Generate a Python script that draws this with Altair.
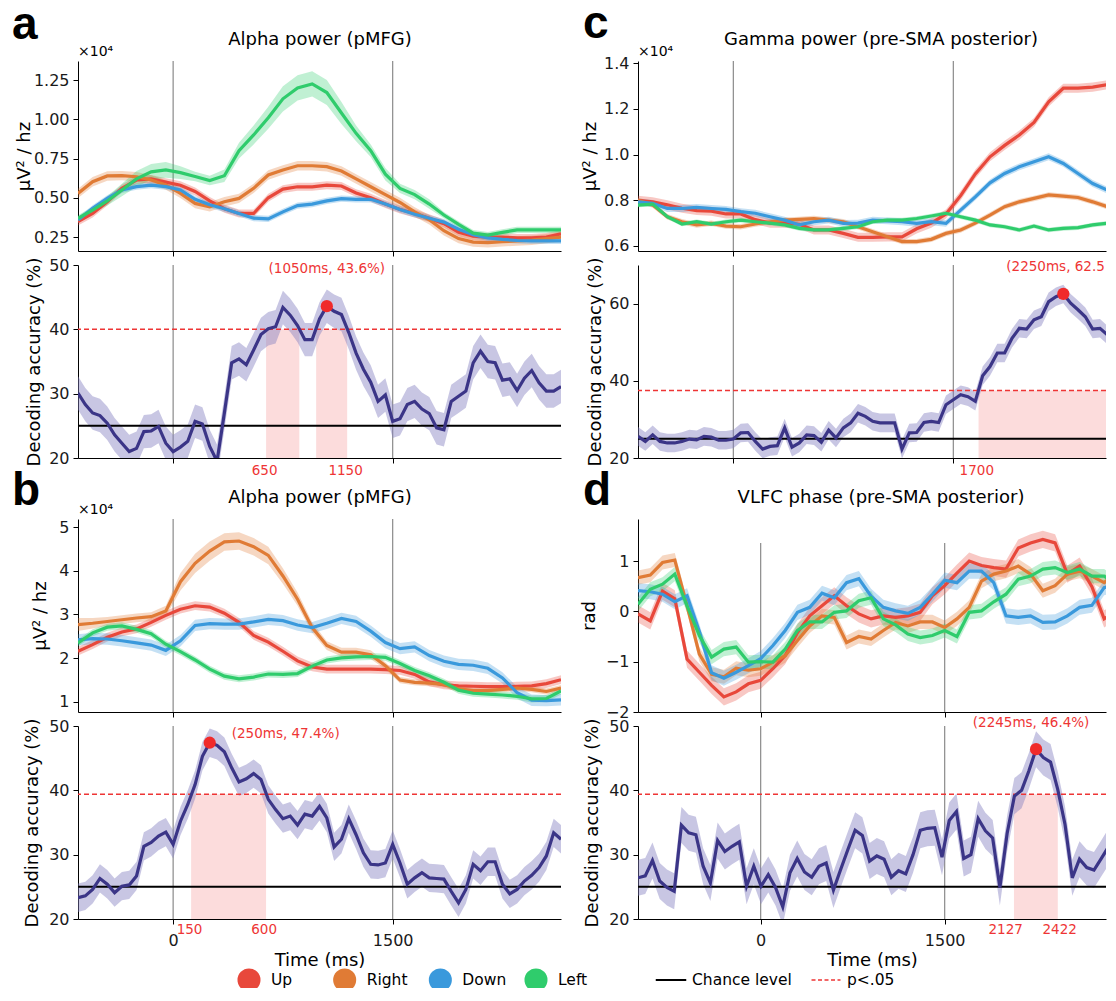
import altair as alt
import pandas as pd

# ---------------- data ----------------
DIRS = ["Up", "Right", "Down", "Left"]
DIR_COLORS = ["#e8483b", "#e07b35", "#3a99dc", "#2fcc6c"]

POW_T_ABC = list(range(-650, 2651, 100))
POW_T_D = list(range(-1000, 2901, 100))
DEC_T_ABC = list(range(-650, 2651, 50))
DEC_T_D = [-1000 + 59 * k for k in range(67)]

A_UP = [0.348, 0.40, 0.475, 0.56, 0.613, 0.62, 0.60, 0.58, 0.54, 0.48, 0.43, 0.40, 0.40, 0.50, 0.555, 0.57, 0.57, 0.58,
        0.575, 0.53, 0.50, 0.46, 0.425, 0.40, 0.37, 0.335, 0.28, 0.255, 0.25, 0.25, 0.245, 0.245, 0.25, 0.27]
A_RIGHT = [0.528, 0.602, 0.639, 0.641, 0.634, 0.613, 0.581, 0.528, 0.464, 0.443, 0.475, 0.496, 0.56, 0.645, 0.677, 0.704,
           0.704, 0.698, 0.67, 0.62, 0.57, 0.52, 0.47, 0.41, 0.36, 0.29, 0.24, 0.218, 0.214, 0.22, 0.225, 0.23, 0.24, 0.25]
A_DOWN = [0.358, 0.433, 0.496, 0.55, 0.571, 0.581, 0.571, 0.55, 0.49, 0.455, 0.43, 0.40, 0.37, 0.365, 0.41, 0.45, 0.46,
          0.48, 0.495, 0.49, 0.49, 0.46, 0.425, 0.395, 0.37, 0.345, 0.30, 0.265, 0.245, 0.235, 0.228, 0.225, 0.225, 0.225]
A_LEFT = [0.369, 0.422, 0.48, 0.55, 0.62, 0.665, 0.677, 0.66, 0.635, 0.61, 0.64, 0.80, 0.90, 1.01, 1.13, 1.20, 1.225,
          1.17, 1.04, 0.91, 0.80, 0.65, 0.56, 0.52, 0.46, 0.39, 0.33, 0.275, 0.262, 0.28, 0.295, 0.295, 0.295, 0.295]
A_SE = {"Up": 0.025, "Right": 0.03, "Down": 0.02,
        "Left": [0.02, 0.02, 0.03, 0.04, 0.05, 0.05, 0.05, 0.04, 0.03, 0.03, 0.04, 0.05, 0.06, 0.07, 0.08, 0.08, 0.08,
                 0.08, 0.07, 0.05, 0.04, 0.04, 0.03, 0.03, 0.03, 0.02, 0.02, 0.02, 0.02, 0.02, 0.02, 0.02, 0.02, 0.02]}

B_UP = [2.16, 2.31, 2.48, 2.60, 2.67, 2.82, 2.98, 3.12, 3.20, 3.17, 3.03, 2.82, 2.52, 2.37, 2.16, 1.94, 1.80, 1.75,
        1.75, 1.75, 1.75, 1.74, 1.72, 1.63, 1.46, 1.39, 1.37, 1.36, 1.35, 1.35, 1.36, 1.37, 1.42, 1.51]
B_RIGHT = [2.77, 2.80, 2.84, 2.88, 2.92, 2.95, 3.08, 3.75, 4.17, 4.45, 4.66, 4.68, 4.55, 4.35, 3.88, 3.35, 2.70, 2.29,
           2.14, 2.14, 2.08, 1.83, 1.50, 1.45, 1.43, 1.40, 1.30, 1.26, 1.26, 1.29, 1.32, 1.29, 1.24, 1.32]
B_DOWN = [2.42, 2.45, 2.44, 2.40, 2.35, 2.30, 2.18, 2.40, 2.75, 2.79, 2.78, 2.78, 2.83, 2.89, 2.86, 2.76, 2.70, 2.80,
          2.91, 2.84, 2.62, 2.36, 2.22, 2.26, 2.06, 1.93, 1.86, 1.84, 1.77, 1.55, 1.21, 1.04, 1.03, 1.05]
B_LEFT = [2.35, 2.58, 2.71, 2.74, 2.66, 2.56, 2.32, 2.15, 1.96, 1.75, 1.59, 1.53, 1.57, 1.64, 1.63, 1.65, 1.82, 1.96,
          2.01, 2.03, 2.04, 2.02, 1.88, 1.72, 1.60, 1.45, 1.27, 1.20, 1.18, 1.16, 1.13, 1.07, 1.08, 1.25]
B_SE = {"Up": 0.1, "Down": 0.13, "Left": 0.08,
        "Right": [0.15, 0.12, 0.1, 0.1, 0.1, 0.1, 0.12, 0.2, 0.22, 0.22, 0.2, 0.2, 0.2, 0.2, 0.18, 0.15, 0.12, 0.1,
                  0.1, 0.1, 0.1, 0.08, 0.07, 0.07, 0.07, 0.07, 0.07, 0.07, 0.07, 0.07, 0.07, 0.07, 0.07, 0.07]}

C_UP = [0.80, 0.793, 0.78, 0.765, 0.755, 0.752, 0.74, 0.74, 0.715, 0.70, 0.70, 0.695, 0.67, 0.67, 0.655, 0.638, 0.638,
        0.64, 0.64, 0.675, 0.70, 0.74, 0.82, 0.915, 0.99, 1.04, 1.085, 1.14, 1.23, 1.29, 1.29, 1.295, 1.305, 1.315]
C_RIGHT = [0.80, 0.779, 0.728, 0.706, 0.692, 0.699, 0.687, 0.684, 0.696, 0.706, 0.713, 0.716, 0.72, 0.713, 0.706,
           0.684, 0.662, 0.64, 0.619, 0.619, 0.629, 0.655, 0.67, 0.70, 0.735, 0.772, 0.793, 0.808, 0.823, 0.818, 0.812,
           0.793, 0.772, 0.757]
C_DOWN = [0.793, 0.786, 0.764, 0.764, 0.769, 0.764, 0.76, 0.75, 0.743, 0.728, 0.713, 0.692, 0.706, 0.713, 0.699, 0.70,
          0.713, 0.71, 0.706, 0.699, 0.706, 0.699, 0.757, 0.815, 0.876, 0.917, 0.946, 0.968, 0.99, 0.961, 0.917, 0.873,
          0.844, 0.823]
C_LEFT = [0.779, 0.783, 0.728, 0.696, 0.706, 0.696, 0.706, 0.713, 0.706, 0.70, 0.692, 0.677, 0.67, 0.67, 0.677, 0.684,
          0.706, 0.713, 0.713, 0.72, 0.731, 0.743, 0.728, 0.713, 0.692, 0.684, 0.67, 0.687, 0.67, 0.677, 0.68, 0.692,
          0.699, 0.713]
C_SE = {"Up": 0.02, "Right": 0.012, "Down": 0.015, "Left": 0.01}

D_UP = [-0.05, -0.19, 0.40, 0.25, -0.95, -1.21, -1.47, -1.70, -1.60, -1.44, -1.37, -1.14, -0.88, -0.42, -0.09, 0.11,
        0.31, 0.11, -0.05, -0.15, -0.09, -0.12, -0.09, -0.02, 0.31, 0.51, 0.76, 1.0, 0.91, 0.87, 0.84, 1.26, 1.36, 1.43,
        1.36, 0.74, 0.90, 0.49, -0.15, 0.01]
D_RIGHT = [0.67, 0.72, 0.97, 1.02, 0.11, -0.85, -1.25, -1.30, -1.13, -1.17, -1.14, -1.01, -0.88, -0.58, -0.29, -0.09,
           -0.12, -0.62, -0.50, -0.55, -0.38, -0.22, -0.29, -0.21, -0.21, -0.32, -0.15, 0.08, 0.60, 0.74, 0.80, 0.90,
           0.74, 0.41, 0.51, 0.74, 0.80, 0.70, 0.57, 0.77]
D_DOWN = [0.41, 0.39, 0.34, 0.19, 0.31, -0.40, -1.22, -1.33, -1.21, -1.08, -0.94, -0.68, -0.38, -0.02, 0.08, 0.36,
          0.27, 0.57, 0.65, 0.30, 0.08, 0.01, -0.04, 0.08, 0.34, 0.62, 0.57, 0.80, 0.80, 0.57, -0.09, -0.12, -0.09,
          -0.22, -0.21, -0.09, 0.08, 0.12, 0.47, 0.54]
D_LEFT = [0.14, 0.44, 0.54, 0.74, 0.11, -0.48, -0.91, -0.75, -0.71, -1.01, -1.0, -1.01, -0.75, -0.38, -0.21, -0.21,
          -0.02, 0.01, 0.21, 0.27, -0.15, -0.27, -0.45, -0.52, -0.48, -0.38, -0.50, -0.02, 0.01, 0.19, 0.34, 0.64,
          0.70, 0.84, 0.87, 0.77, 0.84, 0.70, 0.70, 0.54]
D_SE = {"Up": 0.17, "Right": 0.14, "Down": 0.15, "Left": 0.14}

A_ACC = [30.1, 28.3, 27.0, 26.6, 25.4, 23.6, 22.3, 21.0, 21.5, 24.1, 24.2, 24.9, 22.3, 21.0, 21.7, 22.6, 25.7, 25.3,
         21.8, 19.5, 27.0, 34.8, 35.4, 34.5, 36.8, 39.2, 40.1, 40.4, 43.4, 42.2, 40.6, 38.4, 38.4, 41.6, 43.6, 42.8,
         42.3, 39.5, 36.3, 33.8, 31.8, 28.8, 29.8, 25.7, 26.1, 28.3, 28.8, 27.6, 26.9, 24.7, 24.4, 28.8, 29.6, 30.4,
         34.8, 36.6, 35.0, 34.8, 32.1, 32.3, 30.5, 32.4, 33.6, 31.7, 30.4, 30.4, 31.1]
B_ACC = [23.3, 23.6, 24.6, 26.3, 25.4, 24.1, 25.1, 25.3, 26.7, 31.3, 31.9, 32.9, 33.5, 31.6, 35.2, 37.8, 40.9, 45.3,
         47.4, 47.0, 46.0, 43.5, 41.3, 41.8, 42.6, 41.7, 38.6, 37.0, 35.6, 36.0, 34.6, 36.3, 36.0, 37.5, 35.7, 31.2,
         32.4, 35.6, 33.1, 30.3, 28.5, 28.4, 28.7, 31.6, 28.7, 25.4, 26.4, 27.2, 26.4, 26.3, 26.2, 24.3, 22.5, 24.6,
         28.5, 27.5, 28.9, 28.9, 25.4, 23.9, 24.6, 25.9, 26.8, 28.0, 29.8, 33.4, 32.4]
C_ACC = [25.6, 24.3, 26.0, 24.3, 23.9, 23.9, 24.3, 24.9, 24.7, 25.6, 25.4, 24.6, 24.6, 24.9, 26.5, 26.6, 24.3, 22.3,
         23.0, 23.2, 27.8, 22.8, 23.9, 26.0, 25.8, 24.1, 27.2, 25.2, 27.8, 29.1, 31.6, 30.8, 29.5, 29.1, 29.1, 29.1,
         22.3, 26.5, 26.6, 29.2, 29.5, 29.2, 33.8, 35.1, 36.4, 35.9, 34.7, 41.3, 43.7, 47.2, 47.2, 51.0, 53.6, 53.4,
         55.8, 56.6, 60.5, 61.8, 62.5, 60.1, 58.4, 56.6, 53.4, 53.6, 51.9, 49.3, 47.6]
D_ACC = [26.4, 26.7, 29.1, 25.9, 24.9, 24.3, 34.6, 33.4, 33.1, 28.2, 25.6, 32.2, 30.5, 31.3, 32.0, 25.1, 28.2, 25.1,
         26.9, 24.9, 21.9, 27.2, 29.4, 27.3, 26.5, 28.2, 28.7, 24.5, 27.7, 30.8, 33.8, 33.0, 29.0, 29.8, 29.3, 26.5,
         27.5, 27.0, 30.0, 33.8, 34.1, 34.2, 29.6, 35.3, 36.7, 29.4, 30.0, 35.6, 33.7, 32.6, 24.9, 33.3, 39.1, 40.0,
         43.0, 46.4, 45.1, 44.4, 40.1, 34.7, 26.4, 29.3, 28.0, 27.6, 29.4, 31.2, 29.8]
ACC_SE = {"a": 2.6, "b": 2.2, "c": 2.4, "d": 2.8}

CHANCE = 25
THRESH = {"a": 40.0, "b": 39.4, "c": 37.5, "d": 39.4}
SHADES = {"a": [(635, 862), (977, 1189)], "b": [(123, 635)], "c": [(1672, 2650)], "d": [(2065, 2422)]}
SHADE_LABELS = {"a": [(625, "650"), (1178, "1150")], "b": [(112, "150"), (622, "600")],
                "c": [(1660, "1700")], "d": [(1997, "2127"), (2437, "2422")]}
PEAKS = {"a": (1050, 43.6, "(1050ms, 43.6%)"), "b": (250, 47.4, "(250ms, 47.4%)"),
         "c": (2250, 62.5, "(2250ms, 62.5%)"), "d": (2245, 46.4, "(2245ms, 46.4%)")}
VLINES = [0, 1500]
REFS = ["Chance level", "p<.05"]

# ---------------- styling ----------------
FONT = "DejaVu Sans"
RED = "#ee3535"
DEC_LINE = "#3b3587"
DEC_BAND = "#8580c0"
VGRAY = "#8a8a8a"
LETTER_SIZE = 46


def x_axis(show_labels, title=None):
    return alt.Axis(values=VLINES, labels=show_labels, title=title, format="d", grid=False,
                    labelPadding=8, titlePadding=3, tickSize=5)


def text_layer(txt, x, y, size, weight="normal", align="left", baseline="alphabetic", font=FONT):
    return alt.Chart(pd.DataFrame({"s": [txt]})).mark_text(
        font=font, fontSize=size, fontWeight=weight, align=align, baseline=baseline, color="black"
    ).encode(x=alt.value(x), y=alt.value(y), text="s:N")


def power_panel(times, series, se, xdom, width, height, ydom, yvals, yfmt, ytitle, title_x,
                title, title_cx, letter, letter_xy, x10=True, vtop=None):
    rows = []
    for d in DIRS:
        s = se[d]
        for i, (t, m) in enumerate(zip(times, series[d])):
            e = s[i] if isinstance(s, list) else s
            rows.append({"time": t, "dir": d, "mean": m, "lo": m - e, "hi": m + e})
    df = pd.DataFrame(rows)
    xs = alt.Scale(domain=xdom, nice=False, zero=False)
    ys = alt.Scale(domain=ydom, nice=False, zero=False)
    x = alt.X("time:Q", scale=xs, axis=x_axis(False))
    yax = alt.Axis(values=yvals, format=yfmt, title=ytitle, titleX=title_x, titleBaseline="middle",
                   labelPadding=4, tickSize=5)
    color = alt.Color("dir:N", scale=alt.Scale(domain=DIRS, range=DIR_COLORS), legend=None)

    vdf = pd.DataFrame({"time": VLINES})
    if vtop is None:
        vl = alt.Chart(vdf).mark_rule(color=VGRAY, strokeWidth=1.2).encode(x=x)
    else:
        vl = alt.Chart(vdf).mark_rule(color=VGRAY, strokeWidth=1.2).encode(
            x=x, y=alt.datum(ydom[0]), y2=alt.datum(vtop))
    band = alt.Chart(df).mark_area(opacity=0.3, clip=True).encode(
        x=x, y=alt.Y("lo:Q", scale=ys, axis=yax), y2="hi:Q", color=color)
    line = alt.Chart(df).mark_line(strokeWidth=3.2, clip=True).encode(
        x=x, y=alt.Y("mean:Q", scale=ys, axis=yax), color=color)
    layers = [vl, band, line,
              text_layer(title, title_cx, -16, 18, align="center"),
              text_layer(letter, letter_xy[0], letter_xy[1], LETTER_SIZE, weight="bold", font="Liberation Sans")]
    if x10:
        layers.append(text_layer("×10⁴", 0, -9, 14, baseline="middle"))
    return alt.layer(*layers).properties(width=width, height=height)


def dec_panel(key, times, acc, xdom, width, height, ydom, yvals, title_x, bottom_row,
              peak_align="center", peak_dx=0, peak_y=4, label_y=12, peak_limit=0):
    se = ACC_SE[key]
    df = pd.DataFrame({"time": times, "acc": acc,
                       "lo": [a - se for a in acc], "hi": [a + se for a in acc]})
    xs = alt.Scale(domain=xdom, nice=False, zero=False)
    ys = alt.Scale(domain=ydom, nice=False, zero=False)
    x = alt.X("time:Q", scale=xs, axis=x_axis(bottom_row, "Time (ms)" if bottom_row else None))
    yax = alt.Axis(values=yvals, format="d", title="Decoding accuracy (%)", titleX=title_x,
                   titleBaseline="middle", labelPadding=4, tickSize=5)
    y = alt.Y("acc:Q", scale=ys, axis=yax)

    sdf = pd.DataFrame({"time": [s for s, e in SHADES[key]], "time2": [e for s, e in SHADES[key]]})
    shade = alt.Chart(sdf).mark_rect(color="#f7a8a8", opacity=0.4, clip=True).encode(
        x=x, x2="time2:Q", y=alt.datum(ydom[0]), y2=alt.datum(THRESH[key]))
    vl = alt.Chart(pd.DataFrame({"time": VLINES})).mark_rule(color=VGRAY, strokeWidth=1.2).encode(x=x)
    band = alt.Chart(df).mark_area(color=DEC_BAND, opacity=0.45, clip=True).encode(
        x=x, y=alt.Y("lo:Q", scale=ys, axis=yax), y2="hi:Q")
    line = alt.Chart(df).mark_line(color=DEC_LINE, strokeWidth=3.2, clip=True).encode(x=x, y=y)
    chance = alt.Chart(pd.DataFrame({"v": [CHANCE]})).mark_rule(color="black", strokeWidth=2).encode(
        y=alt.Y("v:Q", scale=ys, axis=yax))
    thr = alt.Chart(pd.DataFrame({"v": [THRESH[key]]})).mark_rule(
        color=RED, strokeWidth=1.5, strokeDash=[5, 3]).encode(y=alt.Y("v:Q", scale=ys, axis=yax))
    pt, pv, plab = PEAKS[key]
    pdf = pd.DataFrame({"time": [pt], "acc": [pv], "lab": [plab]})
    dot = alt.Chart(pdf).mark_circle(color="#f02a2a", size=150, opacity=1).encode(x=x, y=y)
    tprops = dict(font=FONT, fontSize=13.5, color=RED, align=peak_align, dx=peak_dx, baseline="middle")
    if peak_limit:
        tprops.update(limit=peak_limit, ellipsis="\u200b")
    ptxt = alt.Chart(pdf).mark_text(**tprops).encode(x=x, y=alt.value(peak_y), text="lab:N")
    ldf = pd.DataFrame({"time": [t for t, s in SHADE_LABELS[key]], "lab": [s for t, s in SHADE_LABELS[key]]})
    ltxt = alt.Chart(ldf).mark_text(font=FONT, fontSize=13.5, color=RED, align="center",
                                    baseline="middle").encode(x=x, y=alt.value(height + label_y), text="lab:N")
    return alt.layer(vl, shade, band, chance, thr, line, dot, ptxt, ltxt).properties(width=width, height=height)


def spacer(w, h):
    return alt.Chart(pd.DataFrame({"s": [""]})).mark_text(opacity=0).encode(
        x=alt.value(0), y=alt.value(0), text="s:N").properties(width=w, height=h)


LW, CW, DW = 483, 468, 468
LEFT_DOM = [-650, 2650]
C_DOM = [-650, 2541]
D_DOM = [-1000, 2815]

a_top = power_panel(POW_T_ABC, {"Up": A_UP, "Right": A_RIGHT, "Down": A_DOWN, "Left": A_LEFT}, A_SE,
                    LEFT_DOM, LW, 190, [0.161, 1.371], [0.25, 0.5, 0.75, 1.0, 1.25], ".2f", "μV² / hz", -54,
                    "Alpha power (pMFG)", 242, "a", (-66, -22))
a_bot = dec_panel("a", DEC_T_ABC, A_ACC, LEFT_DOM, LW, 193, [20, 50], [20, 25, 30, 35, 40, 45, 50], -44, False,
                  peak_y=4, label_y=13)
b_top = power_panel(POW_T_ABC, {"Up": B_UP, "Right": B_RIGHT, "Down": B_DOWN, "Left": B_LEFT}, B_SE,
                    LEFT_DOM, LW, 193, [0.771, 5.183], [1, 2, 3, 4, 5], "d", "μV² / hz", -38,
                    "Alpha power (pMFG)", 242, "b", (-66, -14))
b_bot = dec_panel("b", DEC_T_ABC, B_ACC, LEFT_DOM, LW, 193, [20, 50], [20, 25, 30, 35, 40, 45, 50], -46, True,
                  peak_align="left", peak_dx=22, peak_y=8, label_y=11)
c_top = power_panel(POW_T_ABC, {"Up": C_UP, "Right": C_RIGHT, "Down": C_DOWN, "Left": C_LEFT}, C_SE,
                    C_DOM, CW, 190, [0.578, 1.409], [0.6, 0.8, 1.0, 1.2, 1.4], ".1f", "μV² / hz", -48,
                    "Gamma power (pre-SMA posterior)", 243, "c", (-55, -23))
c_bot = dec_panel("c", DEC_T_ABC, C_ACC, C_DOM, CW, 193, [20, 70], [20, 30, 40, 50, 60, 70], -43, False,
                  peak_align="left", peak_dx=-57, peak_y=2, label_y=13, peak_limit=101)
d_top = power_panel(POW_T_D, {"Up": D_UP, "Right": D_RIGHT, "Down": D_DOWN, "Left": D_LEFT}, D_SE,
                    D_DOM, DW, 193, [-2.0, 1.835], [-2, -1, 0, 1], "d", "rad", -49,
                    "VLFC phase (pre-SMA posterior)", 243, "d", (-55, -14), x10=False, vtop=1.36)
d_bot = dec_panel("d", DEC_T_D, D_ACC, D_DOM, DW, 193, [20, 50], [20, 25, 30, 35, 40, 45, 50], -46, True,
                  peak_dx=-5, peak_y=-3, label_y=11)

# ---------------- legend (two pieces, one per column) ----------------
LEG_Y = 12
dir_df = pd.DataFrame({"dir": DIRS})
dir_x = alt.X("dir:N", scale=alt.Scale(domain=DIRS, range=[171, 458], padding=0), axis=None)
ref_x = alt.X("ref:N", scale=alt.Scale(domain=REFS, range=[33, 188], padding=0), axis=None)
leg_circles = alt.Chart(dir_df).mark_circle(size=530, opacity=1, clip=True).encode(
    x=dir_x, y=alt.value(LEG_Y),
    color=alt.Color("dir:N", scale=alt.Scale(domain=DIRS, range=DIR_COLORS), legend=None))
leg_dir_text = alt.Chart(dir_df).mark_text(font=FONT, fontSize=15.5, align="left", baseline="middle", dx=22,
                                           color="black").encode(x=dir_x, y=alt.value(LEG_Y), text="dir:N")
legend_left = alt.layer(leg_circles, leg_dir_text).properties(width=LW, height=20)

leg_chance = alt.Chart(pd.DataFrame({"ref": [REFS[0]]})).mark_point(
    shape="M-1,0L1,0", size=930, filled=False, strokeWidth=2, color="black", opacity=1).encode(
    x=ref_x, y=alt.value(LEG_Y))
leg_p = alt.Chart(pd.DataFrame({"ref": [REFS[1]]})).mark_point(
    shape="M-1,0L1,0", size=840, filled=False, strokeWidth=1.6, color=RED, strokeDash=[4, 2.5], opacity=1).encode(
    x=ref_x, y=alt.value(LEG_Y))
leg_ref_text = alt.Chart(pd.DataFrame({"ref": REFS})).mark_text(
    font=FONT, fontSize=15.5, align="left", baseline="middle", dx=21, color="black").encode(
    x=ref_x, y=alt.value(LEG_Y), text="ref:N")
legend_right = alt.layer(leg_chance, leg_p, leg_ref_text).properties(width=300, height=20)

chart = alt.concat(
    a_top, c_top,
    a_bot, c_bot,
    spacer(LW, 33), spacer(CW, 33),
    b_top, d_top,
    b_bot, d_bot,
    spacer(LW, 21), spacer(CW, 21),
    legend_left, legend_right,
    columns=2, spacing={"row": 14, "column": 77}, bounds="flush"
).properties(
    padding={"left": 4, "top": -7, "right": 0, "bottom": 0}
).configure_view(stroke=None).configure_axis(
    grid=False, domainColor="black", domainWidth=1, tickColor="black", tickWidth=1,
    labelFont=FONT, labelFontSize=16, labelColor="#1a1a1a",
    titleFont=FONT, titleFontSize=18, titleFontWeight="normal", titleColor="black"
).configure_text(font=FONT)

chart.save("out.html", embed_options={"renderer": "svg", "actions": False})
